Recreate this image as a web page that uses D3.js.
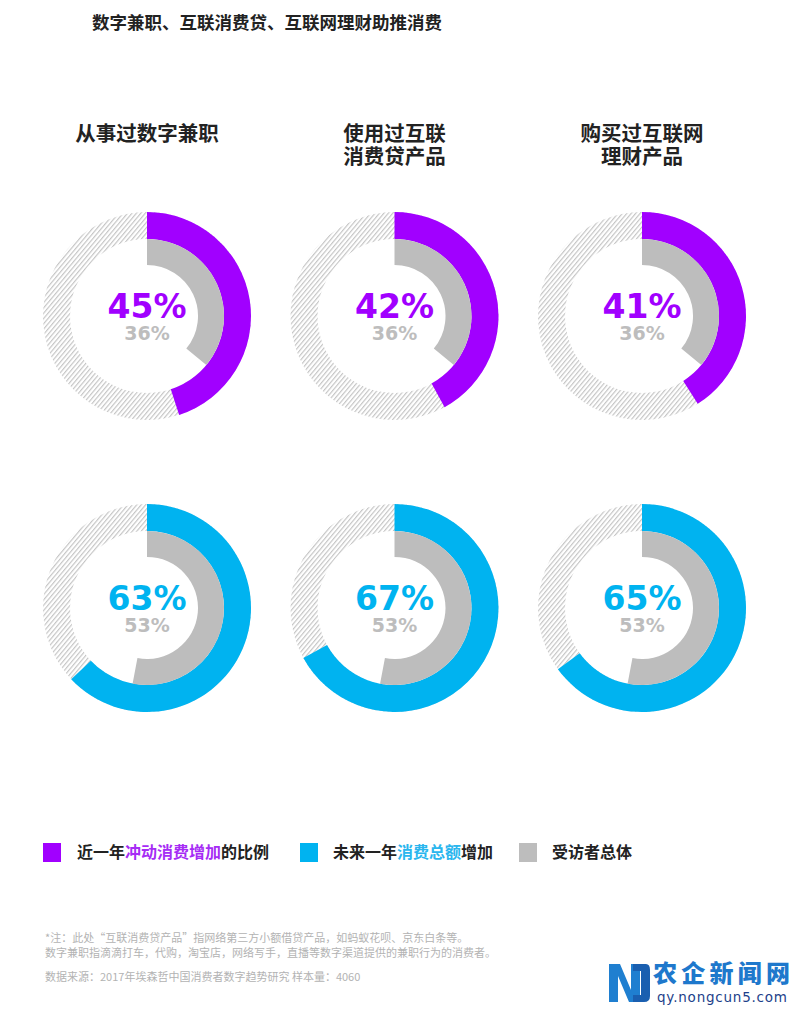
<!DOCTYPE html>
<html>
<head>
<meta charset="utf-8">
<script src="https://cdn.jsdelivr.net/npm/d3@7"></script>
<style>
  html, body { margin: 0; padding: 0; background: #fff; }
  svg { display: block; }
</style>
</head>
<body>
<svg id="chart" width="800" height="1009"></svg>
<script>
// ---- data ----
const chartTitle = "数字兼职、互联消费贷、互联网理财助推消费";
const groups = ["从事过数字兼职", "使用过互联\n消费贷产品", "购买过互联网\n理财产品"];
const impulseShare = [45, 42, 41];       // 近一年冲动消费增加的比例
const impulseOverall = [36, 36, 36];     // 受访者总体
const spendShare = [63, 67, 65];         // 未来一年消费总额增加
const spendOverall = [53, 53, 53];       // 受访者总体
const legendItems = [
  { key: "impulse", parts: [["近一年", false], ["冲动消费增加", true], ["的比例", false]] },
  { key: "spend", parts: [["未来一年", false], ["消费总额", true], ["增加", false]] },
  { key: "overall", parts: [["受访者总体", false]] }
];
const notes = [
  "*注：此处“互联消费贷产品”指网络第三方小额借贷产品，如蚂蚁花呗、京东白条等。",
  "数字兼职指滴滴打车，代购，淘宝店，网络写手，直播等数字渠道提供的兼职行为的消费者。",
  "数据来源：2017年埃森哲中国消费者数字趋势研究 样本量：4060"
];

// ---- styles ----
const colors = { impulse: "#a100ff", spend: "#00b3f0", overall: "#bdbdbd", hatch: "#c2c2c2" };
const highlight = { impulse: "#a62cf5", spend: "#2ab6ee" };
const cjk = "'Noto Sans CJK SC', 'Noto Sans', sans-serif";
const num = "'DejaVu Sans', sans-serif";

const svg = d3.select("#chart");
const defs = svg.append("defs");
const pat = defs.append("pattern")
  .attr("id", "hatch").attr("patternUnits", "userSpaceOnUse")
  .attr("width", 3.4).attr("height", 3.4)
  .attr("patternTransform", "rotate(40)");
pat.append("rect").attr("width", 3.4).attr("height", 3.4).attr("fill", "#fff");
pat.append("line").attr("x1", 0.6).attr("y1", 0).attr("x2", 0.6).attr("y2", 3.4)
  .attr("stroke", colors.hatch).attr("stroke-width", 1.1);

// title
svg.append("text").attr("x", 92).attr("y", 29)
  .attr("font-family", cjk).attr("font-weight", 700).attr("font-size", 17.5)
  .attr("fill", "#222").text(chartTitle);

// scales
const x = d3.scalePoint().domain(groups).range([147, 642]);
const rows = ["impulse", "spend"];
const y = d3.scalePoint().domain(rows).range([316, 608]);
const angle = d3.scaleLinear().domain([0, 100]).range([0, 2 * Math.PI]);

const R_OUT = 104, R_MID = 77, R_IN = 51;
const outerArc = d3.arc().innerRadius(R_MID).outerRadius(R_OUT).startAngle(0);
const innerArc = d3.arc().innerRadius(R_IN).outerRadius(R_MID).startAngle(0);

// group headings
groups.forEach(g => {
  const lines = g.split("\n");
  const t = svg.append("text")
    .attr("x", x(g)).attr("y", 140.5)
    .attr("text-anchor", "middle")
    .attr("font-family", cjk).attr("font-weight", 700).attr("font-size", 20.5)
    .attr("fill", "#222");
  lines.forEach((l, i) => {
    t.append("tspan").attr("x", x(g)).attr("dy", i === 0 ? 0 : 23.5).text(l);
  });
});

const rowData = {
  impulse: groups.map((g, i) => ({ g, v: impulseShare[i], o: impulseOverall[i] })),
  spend: groups.map((g, i) => ({ g, v: spendShare[i], o: spendOverall[i] }))
};

rows.forEach(r => {
  const cells = svg.append("g").selectAll("g").data(rowData[r]).join("g")
    .attr("transform", d => `translate(${x(d.g)},${y(r)})`);
  cells.append("path")
    .attr("d", outerArc.endAngle(2 * Math.PI)())
    .attr("fill", "url(#hatch)");
  cells.append("path")
    .attr("d", d => outerArc.endAngle(angle(d.v))())
    .attr("fill", colors[r]);
  cells.append("path")
    .attr("d", d => innerArc.endAngle(angle(d.o))())
    .attr("fill", colors.overall);
  cells.append("text")
    .attr("y", 1.5).attr("text-anchor", "middle")
    .attr("font-family", num).attr("font-weight", 700).attr("font-size", 33)
    .attr("fill", colors[r]).text(d => d.v + "%");
  cells.append("text")
    .attr("y", 23.5).attr("text-anchor", "middle")
    .attr("font-family", num).attr("font-weight", 700).attr("font-size", 19)
    .attr("fill", colors.overall).text(d => d.o + "%");
});

// legend
const legendX = [43, 300, 519];
const legendTextX = [77, 333, 552];
legendItems.forEach((item, i) => {
  svg.append("rect").attr("x", legendX[i]).attr("y", 843)
    .attr("width", 18).attr("height", 19).attr("fill", colors[item.key]);
  const t = svg.append("text").attr("x", legendTextX[i]).attr("y", 858)
    .attr("font-family", cjk).attr("font-weight", 700).attr("font-size", 16)
    .attr("fill", "#222");
  item.parts.forEach(([s, hl]) => {
    t.append("tspan").attr("fill", hl ? highlight[item.key] : "#222").text(s);
  });
});

// notes
const noteY = [942, 957, 981];
notes.forEach((n, i) => {
  svg.append("text").attr("x", 45).attr("y", noteY[i])
    .attr("font-family", cjk).attr("font-size", 11)
    .attr("fill", "#b3b3b3").text(n);
});

// watermark
const wm = svg.append("g");
wm.append("path")
  .attr("d", "M609,1002 L609,964 L620,964 L631,990 L631,964 L640,964 L640,1002 L629,1002 L618,976 L618,1002 Z")
  .attr("fill", "#1f7fd0");
wm.append("path")
  .attr("d", "M633,964 L646,964 Q650,964 650,970 L650,996 Q650,1002 644,1002 L633,1002 L633,995 L641,995 L641,971 L633,971 Z")
  .attr("fill", "#1a5fb0");
wm.append("text").attr("x", 653).attr("y", 982)
  .attr("font-family", cjk).attr("font-weight", 900).attr("font-size", 24)
  .attr("fill", "#1e78cc").attr("textLength", 137).text("农企新闻网");
wm.append("text").attr("x", 657).attr("y", 1002)
  .attr("font-family", "'DejaVu Sans', sans-serif").attr("font-size", 13.5)
  .attr("fill", "#1d3f8a").attr("textLength", 130).text("qy.nongcun5.com");
</script>
</body>
</html>
